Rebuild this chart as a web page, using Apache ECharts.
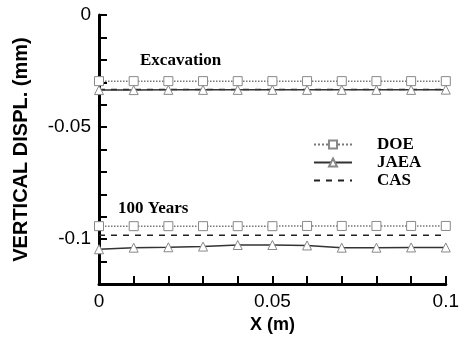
<!DOCTYPE html>
<html>
<head>
<meta charset="utf-8">
<script src="https://cdn.jsdelivr.net/npm/echarts@6/dist/echarts.min.js"></script>
<style>
  html, body { margin: 0; padding: 0; background: #fff; }
  #chart { width: 462px; height: 339px; }
</style>
</head>
<body>
<div id="chart"></div>
<script>
// x positions (m)
const xs = [0, 0.01, 0.02, 0.03, 0.04, 0.05, 0.06, 0.07, 0.08, 0.09, 0.1];

// Excavation
const doeExc = [-0.0295, -0.0295, -0.0295, -0.0295, -0.0295, -0.0295, -0.0295, -0.0295, -0.0295, -0.0295, -0.0295];
const jaeaExc = [-0.0335, -0.0335, -0.0334, -0.0334, -0.0334, -0.0334, -0.0334, -0.0334, -0.0334, -0.0334, -0.0333];
const casExc = [-0.0332, -0.0332, -0.0332, -0.0332, -0.0332, -0.0332, -0.0332, -0.0332, -0.0332, -0.0332, -0.0332];

// 100 years
const doe100 = [-0.0942, -0.0942, -0.0942, -0.0942, -0.0942, -0.0942, -0.0941, -0.0941, -0.0941, -0.0941, -0.0941];
const jaea100 = [-0.1045, -0.1038, -0.1036, -0.1033, -0.1026, -0.1026, -0.1028, -0.1038, -0.1038, -0.1037, -0.1037];
const cas100 = [-0.0982, -0.0982, -0.0982, -0.0982, -0.0982, -0.0982, -0.0982, -0.0982, -0.0982, -0.0982, -0.0982];

const yLabels = [0, -0.05, -0.1];
const xLabels = [0, 0.05, 0.1];

function pairs(ys) {
  return xs.map((x, i) => [x, ys[i]]);
}

const chart = echarts.init(document.getElementById("chart"));

const doeStyle = {
  type: "line", symbol: "rect", symbolSize: 9, showSymbol: true,
  lineStyle: { color: "#777", width: 1.5, type: "dotted" },
  itemStyle: { color: "#fff", borderColor: "#888", borderWidth: 1 },
};
const jaeaStyle = {
  type: "line", symbol: "triangle", symbolSize: 9, showSymbol: true,
  lineStyle: { color: "#333", width: 1.5 },
  itemStyle: { color: "#fff", borderColor: "#888", borderWidth: 1 },
};
// dashed, no markers (transparent item colour hides the legend dot)
const casStyle = {
  type: "line", symbol: "none",
  lineStyle: { color: "#222", width: 1.5, type: [6, 6] },
  itemStyle: { color: "rgba(0,0,0,0)", borderWidth: 0 },
};

function labelFilter(list) {
  return function (v) {
    for (const l of list) {
      if (Math.abs(v - l) < 1e-9) return String(l);
    }
    return "";
  };
}

const options = {
  animation: false,
  grid: { left: 99, right: 16, top: 15, bottom: 53 },
  legend: {
    left: 308, top: 131, orient: "vertical",
    itemWidth: 38, itemHeight: 10, itemGap: 1,
    textStyle: { fontFamily: "Liberation Serif", fontWeight: "bold", fontSize: 17, lineHeight: 17, color: "#000", padding: [0, 0, 0, 20] },
    data: ["DOE", "JAEA", "CAS"],
  },
  xAxis: {
    type: "value", min: 0, max: 0.1, interval: 0.01,
    name: "X (m)", nameLocation: "middle", nameGap: 32,
    nameTextStyle: { fontFamily: "Liberation Sans", fontWeight: "bold", fontSize: 18, color: "#000" },
    axisLine: { show: true, onZero: false, lineStyle: { color: "#000", width: 3 } },
    axisTick: { show: true, inside: true, length: 8, lineStyle: { color: "#000", width: 2 } },
    axisLabel: { formatter: labelFilter(xLabels), fontFamily: "Liberation Sans", fontSize: 19, color: "#000", margin: 8, showMaxLabel: true, showMinLabel: true },
    splitLine: { show: false },
  },
  yAxis: {
    type: "value", min: -0.12, max: 0, interval: 0.01,
    name: "VERTICAL DISPL. (mm)", nameLocation: "middle", nameGap: 68,
    nameTextStyle: { fontFamily: "Liberation Sans", fontWeight: "bold", fontSize: 20, color: "#000" },
    axisLine: { show: true, onZero: false, lineStyle: { color: "#000", width: 3 } },
    axisTick: { show: true, inside: true, length: 8, lineStyle: { color: "#000", width: 2 } },
    axisLabel: { formatter: labelFilter(yLabels), fontFamily: "Liberation Sans", fontSize: 19, color: "#000", margin: 8 },
    splitLine: { show: false },
  },
  graphic: [
    { type: "text", left: 140, top: 52, style: { text: "Excavation", font: "bold 17px 'Liberation Serif'", fill: "#000" } },
    { type: "text", left: 118, top: 200, style: { text: "100 Years", font: "bold 17px 'Liberation Serif'", fill: "#000" } },
  ],
  series: [
    Object.assign({ name: "DOE", data: pairs(doeExc), z: 3 }, doeStyle),
    Object.assign({ name: "JAEA", data: pairs(jaeaExc), z: 3 }, jaeaStyle),
    Object.assign({ name: "CAS", data: pairs(casExc), z: 2 }, casStyle),
    Object.assign({ name: "DOE", data: pairs(doe100), z: 3 }, doeStyle),
    Object.assign({ name: "JAEA", data: pairs(jaea100), z: 3 }, jaeaStyle),
    Object.assign({ name: "CAS", data: pairs(cas100), z: 2 }, casStyle),
  ],
};

chart.setOption(options);
</script>
</body>
</html>
